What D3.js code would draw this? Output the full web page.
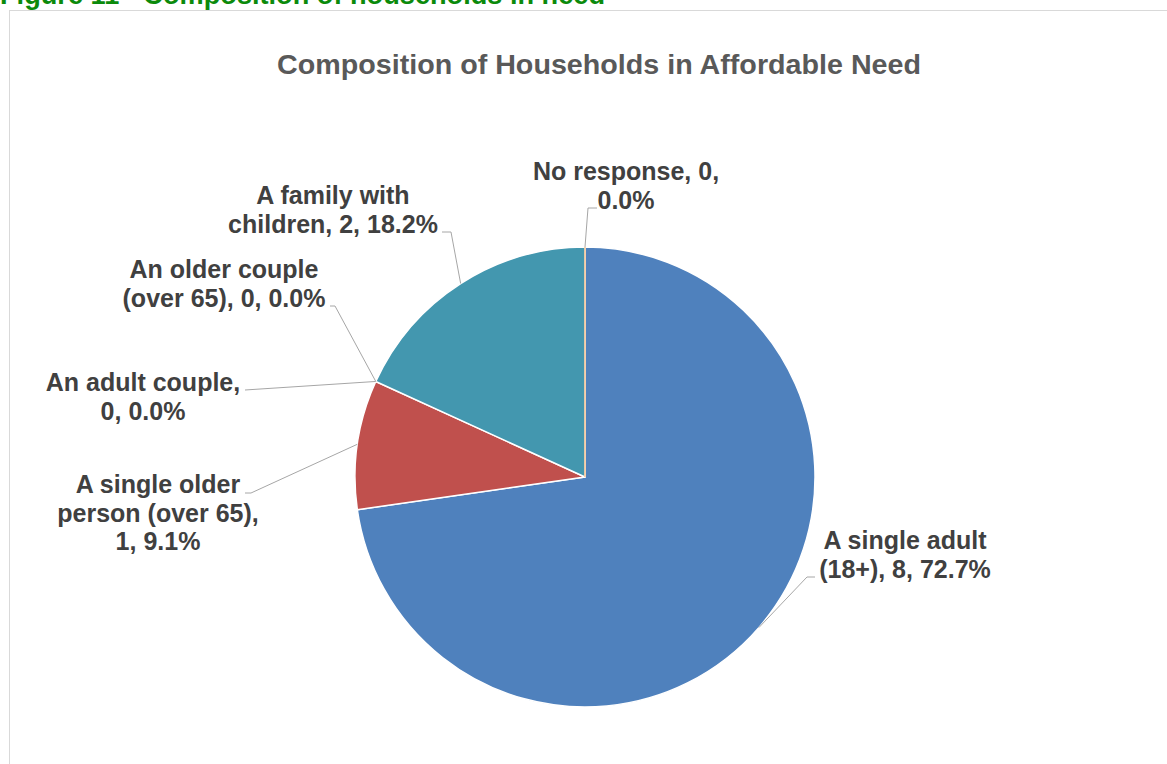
<!DOCTYPE html>
<html>
<head>
<meta charset="utf-8">
<script src="https://cdn.jsdelivr.net/npm/d3@7"></script>
<style>
  html, body { margin: 0; padding: 0; background: #ffffff; }
  svg { display: block; }
  text { font-family: "Liberation Sans", Arial, sans-serif; font-weight: bold; }
</style>
</head>
<body>
<svg id="chart" width="1167" height="764"></svg>
<script>
// ---- data ----
const categories = [
  "A single adult (18+)",
  "A single older person (over 65)",
  "An adult couple",
  "An older couple (over 65)",
  "A family with children",
  "No response"
];
const counts = [8, 1, 0, 0, 2, 0];
const percents = ["72.7%", "9.1%", "0.0%", "0.0%", "18.2%", "0.0%"];
const labelLines = [
  ["A single adult", "(18+), 8, 72.7%"],
  ["A single older", "person (over 65),", "1, 9.1%"],
  ["An adult couple,", "0, 0.0%"],
  ["An older couple", "(over 65), 0, 0.0%"],
  ["A family with", "children, 2, 18.2%"],
  ["No response, 0,", "0.0%"]
];
const colors = ["#4F81BD", "#C0504D", "#9BBB59", "#8064A2", "#4397AF", "#F5B57A"];
const chartTitle = "Composition of Households in Affordable Need";
const figureCaption = "Figure 11 - Composition of households in need";

// ---- layout (label placement, not data) ----
const center = [585, 477];
const radius = 230;
const labelLayout = [
  { cx: 905, y: 549, elbow: [807, 577], end: [815, 577] },
  { cx: 158, y: 493, elbow: [251, 493], end: [245, 493] },
  { cx: 143, y: 391, elbow: [245, 390], end: [245, 390] },
  { cx: 224, y: 278, elbow: [335, 306], end: [330, 306] },
  { cx: 333, y: 204, elbow: [451, 232], end: [442, 232] },
  { cx: 626, y: 180, elbow: [588, 208], end: [597, 208] }
];

const svg = d3.select("#chart");

// figure caption (clipped at top)
svg.append("text")
  .attr("x", 0).attr("y", 4)
  .attr("font-size", 27)
  .attr("fill", "#0B8A0B")
  .attr("textLength", 605)
  .attr("lengthAdjust", "spacingAndGlyphs")
  .text(figureCaption);

// chart border
svg.append("rect")
  .attr("x", 9.5).attr("y", 10.5)
  .attr("width", 1200).attr("height", 800)
  .attr("fill", "#ffffff")
  .attr("stroke", "#D9D9D9")
  .attr("stroke-width", 1);

// title
svg.append("text")
  .attr("x", 599).attr("y", 74)
  .attr("text-anchor", "middle")
  .attr("font-size", 28)
  .attr("fill", "#595959")
  .attr("textLength", 644)
  .attr("lengthAdjust", "spacingAndGlyphs")
  .text(chartTitle);

const data = categories.map((c, i) => ({ name: c, value: counts[i], i }));
const pie = d3.pie().sort(null).value(d => d.value).startAngle(0).endAngle(2 * Math.PI);
const arcs = pie(data);
const arc = d3.arc().innerRadius(0).outerRadius(radius);

const g = svg.append("g").attr("transform", `translate(${center[0]},${center[1]})`);

g.selectAll("path.slice")
  .data(arcs.filter(a => a.value > 0))
  .enter().append("path")
  .attr("class", "slice")
  .attr("d", arc)
  .attr("fill", d => colors[d.data.i])
  .attr("stroke", "#ffffff")
  .attr("stroke-width", 1.5)
  .attr("stroke-linejoin", "round");

// zero-value "No response" slice drawn as a thin radial line
arcs.filter(a => a.value === 0 && a.data.i === 5).forEach(a => {
  const ang = a.startAngle;
  g.append("line")
    .attr("x1", 0).attr("y1", 0)
    .attr("x2", radius * Math.sin(ang)).attr("y2", -radius * Math.cos(ang))
    .attr("stroke", colors[a.data.i])
    .attr("stroke-width", 1.2);
});

// leader lines and labels
arcs.forEach((a, k) => {
  const L = labelLayout[k];
  const mid = (a.startAngle + a.endAngle) / 2;
  const px = center[0] + radius * Math.sin(mid);
  const py = center[1] - radius * Math.cos(mid);
  const pts = [[px, py], L.elbow, L.end];
  svg.append("path")
    .attr("d", d3.line()(pts))
    .attr("fill", "none")
    .attr("stroke", "#A6A6A6")
    .attr("stroke-width", 1);

  const t = svg.append("text")
    .attr("text-anchor", "middle")
    .attr("font-size", 25)
    .attr("fill", "#404040");
  labelLines[k].forEach((line, j) => {
    t.append("tspan")
      .attr("x", L.cx)
      .attr("y", L.y + j * 28.7)
      .text(line);
  });
});
</script>
</body>
</html>
